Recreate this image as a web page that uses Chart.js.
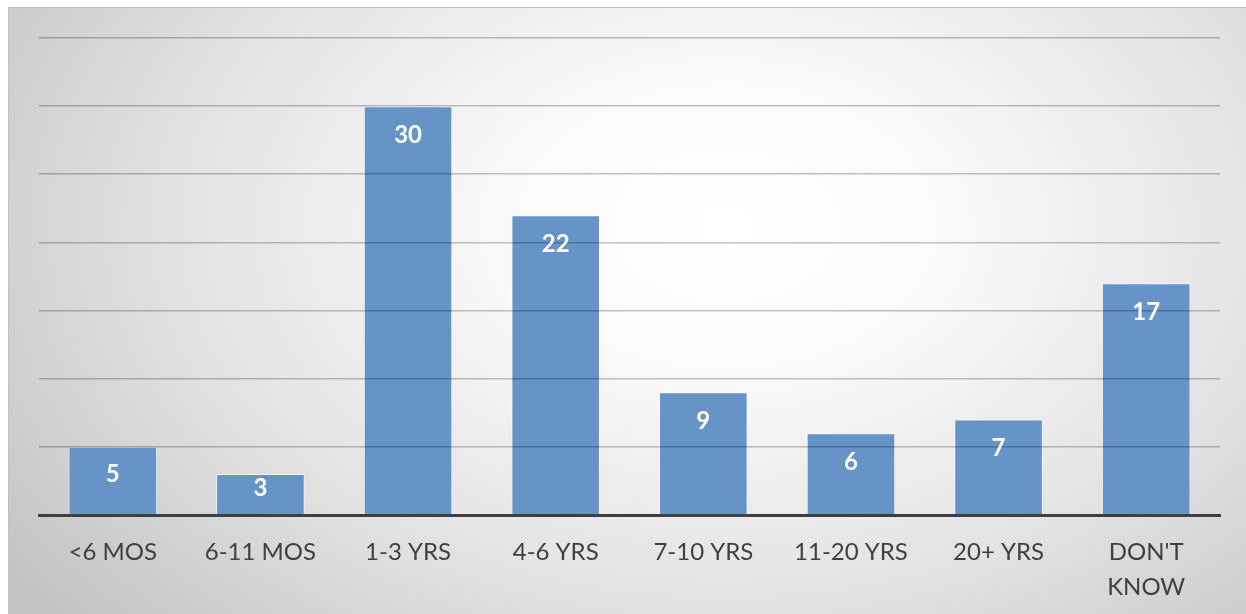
<!DOCTYPE html>
<html>
<head>
<meta charset="utf-8">
<script src="https://cdn.jsdelivr.net/npm/chart.js@4/dist/chart.umd.min.js"></script>
<style>
  html, body { margin: 0; padding: 0; background: #ffffff; }
  #frame {
    position: absolute; left: 8px; top: 7px; width: 1238px; height: 607px;
    box-sizing: border-box;
    border-top: 1px solid #bdbdbd; border-left: 1px solid #c2c2c2;
    background: radial-gradient(ellipse 72% 100% at 58% 36%, #ffffff 0%, #fbfbfb 22%, #e2e2e2 62%, #c2c2c2 100%);
  }
  #chart { display: block; }
</style>
</head>
<body>
<div id="frame"><canvas id="chart" width="1238" height="607"></canvas></div>
<script>
const categories = ['<6 MOS', '6-11 MOS', '1-3 YRS', '4-6 YRS', '7-10 YRS', '11-20 YRS', '20+ YRS', ["DON'T", 'KNOW']];
const respondents = [5, 3, 30, 22, 9, 6, 7, 17];
const axisMax = 35;
const axisStep = 5;

// White value labels placed just inside the top of each bar
const barValueLabels = {
  id: 'barValueLabels',
  afterDraw(chart) {
    const ctx = chart.ctx;
    const meta = chart.getDatasetMeta(0);
    ctx.save();
    ctx.font = 'bold 24px Lato';
    ctx.fillStyle = '#ffffff';
    ctx.textAlign = 'center';
    ctx.textBaseline = 'middle';
    meta.data.forEach((bar, i) => {
      const top = bar.y;
      const bottom = bar.base;
      const offset = Math.min(29, (bottom - top) / 2 - 6);
      ctx.fillText(String(respondents[i]), bar.x, top + offset);
    });
    ctx.restore();
  }
};

new Chart(document.getElementById('chart'), {
  type: 'bar',
  data: {
    labels: categories,
    datasets: [{
      data: respondents,
      backgroundColor: '#6694c7',
      borderColor: 'rgba(255,255,255,0.55)',
      borderWidth: 1,
      categoryPercentage: 1,
      barPercentage: 0.6
    }]
  },
  options: {
    responsive: false,
    animation: false,
    layout: { padding: { left: 30, right: 27, top: 30, bottom: 0 } },
    plugins: { legend: { display: false }, tooltip: { enabled: false } },
    scales: {
      x: {
        grid: { display: false, z: 1 },
        border: { display: true, color: '#3f3f3f', width: 3, z: 1 },
        ticks: {
          color: '#404040',
          font: { family: 'Lato', size: 24, lineHeight: 1.45 },
          padding: 12,
          maxRotation: 0,
          autoSkip: false
        },
        afterFit(axis) { axis.height = 100; }
      },
      y: {
        min: 0,
        max: axisMax,
        ticks: { display: false, stepSize: axisStep },
        border: { display: false },
        grid: {
          z: 1,
          drawTicks: false,
          lineWidth: 1.6,
          color: (c) => c.tick && c.tick.value === 0 ? 'rgba(0,0,0,0)' : 'rgba(0,0,0,0.24)'
        },
        afterFit(axis) { axis.width = 0; }
      }
    }
  },
  plugins: [barValueLabels]
});
</script>
</body>
</html>
